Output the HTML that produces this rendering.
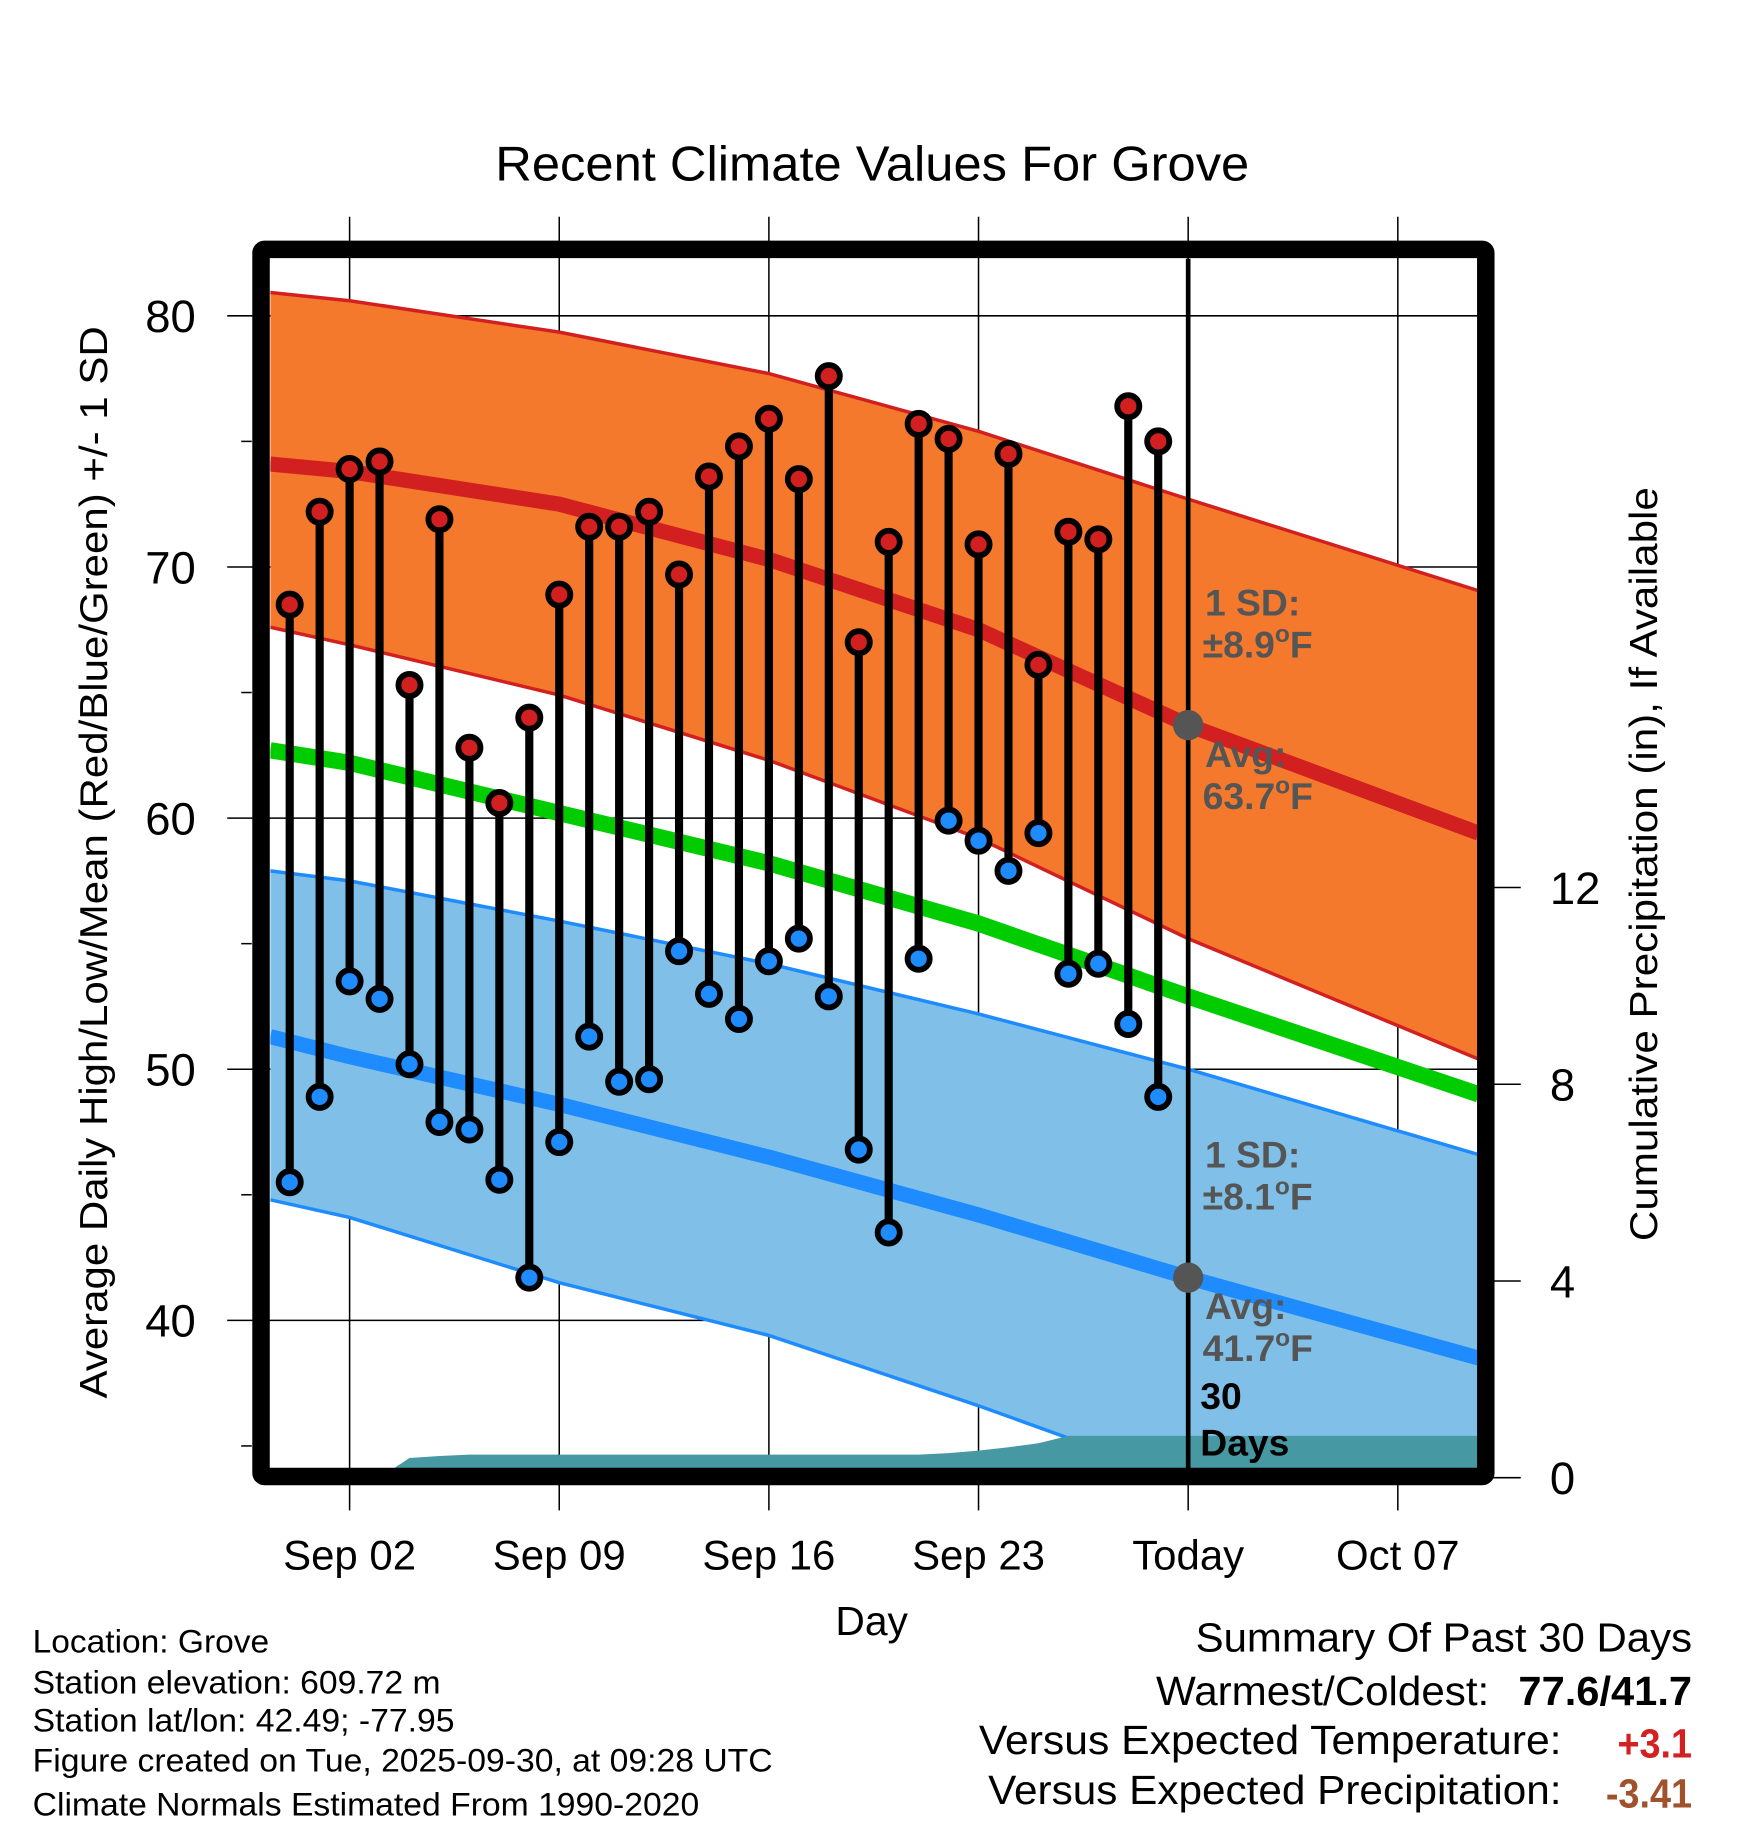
<!DOCTYPE html>
<html><head><meta charset="utf-8"><style>
html,body{margin:0;padding:0;background:#fff;}
svg{display:block;font-family:"Liberation Sans",sans-serif;}
</style></head><body>
<svg id="chart" width="1748" height="1828" viewBox="0 0 1500 1568.6" preserveAspectRatio="none" xmlns="http://www.w3.org/2000/svg">
<defs><clipPath id="plotclip"><rect x="232" y="222" width="1036" height="1038"/></clipPath></defs>
<text x="425" y="155" font-size="42" textLength="647" lengthAdjust="spacingAndGlyphs">Recent Climate Values For Grove</text>
<g id="grid"></g>
<g id="bands" clip-path="url(#plotclip)"></g>
<g id="marks"></g>
<rect x="224" y="214" width="1051" height="1053" fill="none" stroke="#000" stroke-width="15" rx="3"/>
<g id="axes"></g>
<text transform="translate(92,1200) rotate(-90)" font-size="33" textLength="920" lengthAdjust="spacingAndGlyphs">Average Daily High/Low/Mean (Red/Blue/Green) +/- 1 SD</text>
<text transform="translate(1422,1065) rotate(-90)" font-size="33" textLength="647" lengthAdjust="spacingAndGlyphs">Cumulative Precipitation (in), If Available</text>
<text x="748" y="1403" font-size="35" text-anchor="middle">Day</text>
<g font-size="28">
<text x="28" y="1418" textLength="203" lengthAdjust="spacingAndGlyphs">Location: Grove</text>
<text x="28" y="1453" textLength="350" lengthAdjust="spacingAndGlyphs">Station elevation: 609.72 m</text>
<text x="28" y="1486" textLength="362" lengthAdjust="spacingAndGlyphs">Station lat/lon: 42.49; -77.95</text>
<text x="28" y="1520" textLength="635" lengthAdjust="spacingAndGlyphs">Figure created on Tue, 2025-09-30, at 09:28 UTC</text>
<text x="28" y="1558" textLength="572" lengthAdjust="spacingAndGlyphs">Climate Normals Estimated From 1990-2020</text>
</g>
<g font-size="35">
<text x="1026" y="1417" textLength="426" lengthAdjust="spacingAndGlyphs">Summary Of Past 30 Days</text>
<text x="992" y="1463" textLength="286" lengthAdjust="spacingAndGlyphs">Warmest/Coldest:</text>
<text x="1303" y="1463" font-weight="bold" textLength="149" lengthAdjust="spacingAndGlyphs">77.6/41.7</text>
<text x="840" y="1505" textLength="500" lengthAdjust="spacingAndGlyphs">Versus Expected Temperature:</text>
<text x="1388" y="1508" font-weight="bold" fill="#d42020" textLength="64" lengthAdjust="spacingAndGlyphs">+3.1</text>
<text x="848" y="1548" textLength="492" lengthAdjust="spacingAndGlyphs">Versus Expected Precipitation:</text>
<text x="1378" y="1551" font-weight="bold" fill="#a0522d" textLength="74" lengthAdjust="spacingAndGlyphs">-3.41</text>
</g>
</svg>
<script>
// ---- data ----
const normDays = [-2.65, 0, 7, 14, 21, 28, 37.7];
const hiUpper = [80.93, 80.6, 79.35, 77.7, 75.4, 72.7, 69.05];
const hiMean = [74.1, 73.8, 72.5, 70.3, 67.5, 63.7, 59.4];
const hiLower = [67.6, 66.9, 64.9, 62.3, 59.2, 55.2, 50.4];
const meanLine = [62.7, 62.2, 60.2, 58.2, 55.8, 52.9, 49.0];
const loUpper = [57.9, 57.5, 55.9, 54.2, 52.2, 50.0, 46.6];
const loMean = [51.3, 50.5, 48.6, 46.5, 44.2, 41.7, 38.5];
const loLower = [44.8, 44.1, 41.5, 39.4, 36.6, 33.6, 29.8];
const dataDays = [-2,-1,0,1,2,3,4,5,6,7,8,9,10,11,12,13,14,15,16,17,18,19,20,21,22,23,24,25,26,27];
const highs = [68.5,72.2,73.9,74.2,65.3,71.9,62.8,60.6,64.0,68.9,71.6,71.6,72.2,69.7,73.6,74.8,75.9,73.5,77.6,67.0,71.0,75.7,75.1,70.9,74.5,66.1,71.4,71.1,76.4,75.0];
const lows = [45.5,48.9,53.5,52.8,50.2,47.9,47.6,45.6,41.7,47.1,51.3,49.5,49.6,54.7,53.0,52.0,54.3,55.2,52.9,46.8,43.5,54.4,59.9,59.1,57.9,59.4,53.8,54.2,51.8,48.9];
const precip = [0,0,0,0,0.4,0.44,0.47,0.47,0.47,0.47,0.47,0.47,0.47,0.47,0.47,0.47,0.47,0.47,0.47,0.47,0.47,0.47,0.5,0.55,0.62,0.7,0.85,0.85,0.85,0.85];
const xTickDays = [0,7,14,21,28,35];
const xTickLabels = ["Sep 02","Sep 09","Sep 16","Sep 23","Today","Oct 07"];
const yTicks = [40,50,60,70,80];
const yMinor = [35,45,55,65,75];
const pTicks = [0,4,8,12];
const todayDay = 28;
const avgHi = 63.7, avgLo = 41.7;

// ---- scales ----
const X = d => 300 + 25.7 * d;
const Y = t => 271 + (80 - t) * 21.55;
const P = p => 1268 - p * 42.2;
const NS = "http://www.w3.org/2000/svg";
function mk(tag, parent, attrs) {
  const e = document.createElementNS(NS, tag);
  for (const k in attrs) e.setAttribute(k, attrs[k]);
  parent.appendChild(e);
  return e;
}
const grid = document.getElementById('grid');
const bands = document.getElementById('bands');
const marks = document.getElementById('marks');
const axes = document.getElementById('axes');
const xR = X(37.7);

function ptsOf(arr) { return normDays.map((d, i) => X(d) + ',' + Y(arr[i])); }
function band(up, lo, fill, name) {
  const p = ptsOf(up).concat(ptsOf(lo).reverse()).join(' ');
  const e = mk('polygon', bands, {points: p, fill: fill});
  
  
}
function line(arr, color, w, name) {
  const e = mk('polyline', bands, {points: ptsOf(arr).join(' '), fill: 'none', stroke: color, 'stroke-width': w});
  
  
}
band(hiUpper, hiLower, '#f4792d', 'high-sd-band');
band(loUpper, loLower, '#80c0e8', 'low-sd-band');
line(hiUpper, '#d22020', 3, 'high-upper-line');
line(hiLower, '#d22020', 3, 'high-lower-line');
line(loUpper, '#1e8cff', 3, 'low-upper-line');
line(loLower, '#1e8cff', 3, 'low-lower-line');
line(hiMean, '#d22020', 13, 'high-mean-line');
line(loMean, '#1e8cff', 13, 'low-mean-line');
line(meanLine, '#00cc00', 14, 'mean-line');
{
  let pts = [X(dataDays[0]) + ',' + P(0)];
  dataDays.forEach((d, i) => pts.push(X(d) + ',' + P(precip[i])));
  pts.push(xR + ',' + P(precip[precip.length - 1]));
  pts.push(xR + ',' + P(0));
  const e = mk('polygon', bands, {points: pts.join(' '), fill: '#4699a3'});
  
  
}
yTicks.forEach(t => {
  const e = mk('line', grid, {x1: 195, x2: 1268, y1: Y(t), y2: Y(t), stroke: '#000', 'stroke-width': 1.3});
  
  
  const l = mk('text', axes, {x: 168, y: Y(t) + 14, 'font-size': 39, 'text-anchor': 'end'});
  l.textContent = t;
  
  
});
yMinor.forEach(t => {
  const e = mk('line', axes, {x1: 207, x2: 216, y1: Y(t), y2: Y(t), stroke: '#000', 'stroke-width': 1.3});
  
  
});
xTickDays.forEach((d, i) => {
  const e = mk('line', grid, {x1: X(d), x2: X(d), y1: 186, y2: 1296, stroke: '#000', 'stroke-width': 1.3});
  
  
  const l = mk('text', axes, {x: X(d), y: 1347, 'font-size': 36, 'text-anchor': 'middle'});
  l.textContent = xTickLabels[i];
  
  
});
pTicks.forEach(p => {
  const e = mk('line', axes, {x1: 1275, x2: 1305, y1: P(p), y2: P(p), stroke: '#000', 'stroke-width': 1.3});
  
  
  const l = mk('text', axes, {x: 1330, y: P(p) + 14, 'font-size': 39});
  l.textContent = p;
  
  
});
dataDays.forEach((d, i) => {
  const s = mk('line', marks, {x1: X(d), x2: X(d), y1: Y(highs[i]), y2: Y(lows[i]), stroke: '#000', 'stroke-width': 7});
  
  
  const h = mk('circle', marks, {cx: X(d), cy: Y(highs[i]), r: 9.5, fill: '#d22020', stroke: '#000', 'stroke-width': 5});
  
  
  const l = mk('circle', marks, {cx: X(d), cy: Y(lows[i]), r: 9.5, fill: '#1e8cff', stroke: '#000', 'stroke-width': 5});
  
  
});
{
  const t = mk('line', marks, {x1: X(todayDay), x2: X(todayDay), y1: 222, y2: 1262, stroke: '#000', 'stroke-width': 4});
  
  
  const a = mk('circle', marks, {cx: X(todayDay), cy: Y(avgHi), r: 13, fill: '#555'});
  
  
  const b = mk('circle', marks, {cx: X(todayDay), cy: Y(avgLo), r: 13, fill: '#555'});
  
  
}
</script>
<svg style="position:absolute;left:0;top:0" width="1748" height="1828" viewBox="0 0 1500 1568.6" preserveAspectRatio="none" xmlns="http://www.w3.org/2000/svg" font-family="Liberation Sans, sans-serif">
<g font-size="32" font-weight="bold" fill="#555">
<text x="1034" y="528">1 SD:</text>
<text x="1032" y="564">±8.9<tspan font-size="21" dy="-13">o</tspan><tspan dy="13">F</tspan></text>
<text x="1034" y="658">Avg:</text>
<text x="1032" y="694">63.7<tspan font-size="21" dy="-13">o</tspan><tspan dy="13">F</tspan></text>
<text x="1034" y="1002">1 SD:</text>
<text x="1032" y="1038">±8.1<tspan font-size="21" dy="-13">o</tspan><tspan dy="13">F</tspan></text>
<text x="1034" y="1132">Avg:</text>
<text x="1032" y="1168">41.7<tspan font-size="21" dy="-13">o</tspan><tspan dy="13">F</tspan></text>
<text x="1030" y="1209" fill="#000">30</text>
<text x="1030" y="1249" fill="#000">Days</text>
</g>
</svg>
</body></html>
